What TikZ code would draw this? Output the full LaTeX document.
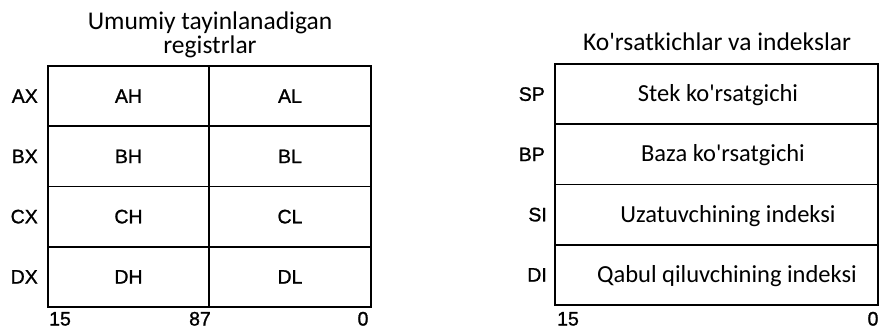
\documentclass[tikz,border=0pt]{standalone}
\usepackage{fontspec}
\setmainfont{Liberation Sans}
\newfontfamily\labfont{Liberation Sans}[FakeBold=1.2]
\newfontfamily\calfont{Carlito}[Ligatures=TeXOff]
\begin{document}
\begin{tikzpicture}[x=1pt,y=-1pt,
  cell/.style={draw, line width=1.8pt, minimum width=#1, minimum height=60.25pt,
    inner sep=0pt, outer sep=0pt, anchor=north west,
    font=\labfont\fontsize{19.5}{22}\selectfont},
  lab/.style={inner sep=0pt, font=\labfont\fontsize{19.5}{22}\selectfont},
  body/.style={inner sep=0pt, font=\calfont\fontsize{24.5}{28}\selectfont, anchor=base},
  ttl/.style={inner sep=0pt, font=\calfont\fontsize{25.5}{29}\selectfont, anchor=base}]
\useasboundingbox (0,0) rectangle (881,329);
% left table
\node[cell=161pt] (ah) at (48,66) {AH};
\node[cell=162pt] (al) at (209,66) {AL};
\node[cell=161pt] (bh) at (48,126.25) {BH};
\node[cell=162pt] (bl) at (209,126.25) {BL};
\node[cell=161pt] (ch) at (48,186.5) {CH};
\node[cell=162pt] (cl) at (209,186.5) {CL};
\node[cell=161pt] (dh) at (48,246.75) {DH};
\node[cell=162pt] (dl) at (209,246.75) {DL};
\node[lab, anchor=east] (ax) at ([xshift=-10pt]ah.west) {AX};
\node[lab, anchor=east] (bx) at ([xshift=-10pt]bh.west) {BX};
\node[lab, anchor=east] (cx) at ([xshift=-10pt]ch.west) {CX};
\node[lab, anchor=east] (dx) at ([xshift=-10pt]dh.west) {DX};
\node[lab, anchor=base west] (n15a) at (49,325.5) {15};
\node[lab, anchor=base] (n87) at (200,325.5) {87};
\node[lab, anchor=base] (n0a) at (363,325.5) {0};
\node[ttl] (t1a) at (210,29.5) {Umumiy tayinlanadigan};
\node[ttl] (t1b) at (210,54) {registrlar};
% right table
\node[cell=323pt] (sp) at (555,64) {};
\node[cell=323pt] (bp) at (555,124.25) {};
\node[cell=323pt] (si) at (555,184.5) {};
\node[cell=323pt] (di) at (555,244.75) {};
\node[body] (tsp) at ([xshift=1.5pt,yshift=-7.5pt]sp.center) {Stek ko'rsatgichi};
\node[body] (tbp) at ([xshift=6.5pt,yshift=-7.5pt]bp.center) {Baza ko'rsatgichi};
\node[body] (tsi) at ([xshift=11.5pt,yshift=-7.5pt]si.center) {Uzatuvchining indeksi};
\node[body] (tdi) at ([xshift=10.5pt,yshift=-7.5pt]di.center) {Qabul qiluvchining indeksi};
\node[lab, anchor=east] (lsp) at ([xshift=-10pt]sp.west) {SP};
\node[lab, anchor=east] (lbp) at ([xshift=-10pt]bp.west) {BP};
\node[lab, anchor=east] (lsi) at ([xshift=-8pt]si.west) {SI};
\node[lab, anchor=east] (ldi) at ([xshift=-8pt]di.west) {DI};
\node[lab, anchor=base] (n15b) at (568,325.5) {15};
\node[lab, anchor=base] (n0b) at (873,325.5) {0};
\node[ttl] (t2) at (717,50.5) {Ko'rsatkichlar va indekslar};
\end{tikzpicture}
\end{document}
